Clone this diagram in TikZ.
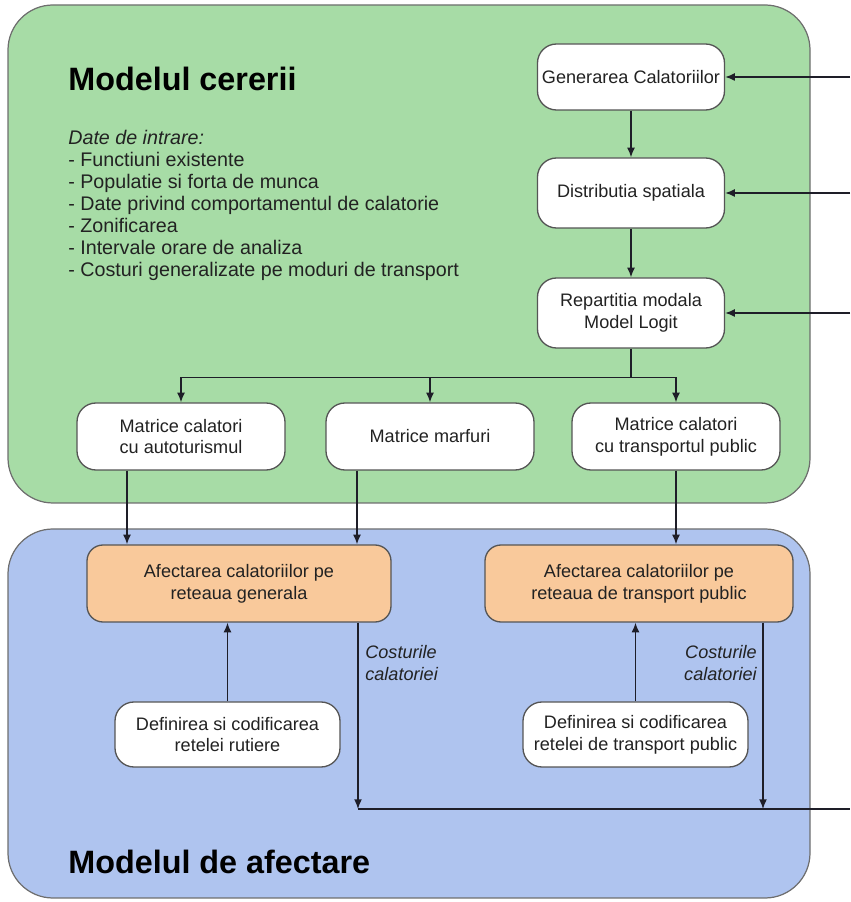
\documentclass[tikz,border=0pt]{standalone}
\usepackage{fontspec}
\setmainfont{Liberation Sans}
\usetikzlibrary{arrows.meta,positioning}

\definecolor{cererefill}{HTML}{A7DCA6}
\definecolor{afectfill}{HTML}{AFC4EF}
\definecolor{asgfill}{HTML}{F9C99B}
\definecolor{boxline}{HTML}{555555}
\definecolor{panelline}{HTML}{6E6E6E}
\definecolor{txt}{HTML}{222222}
\definecolor{arrowcol}{HTML}{1E1E28}

\begin{document}
\begin{tikzpicture}[
    >={Latex[length=5.5pt,width=4.5pt]},
    panel/.style={draw=panelline,line width=0.7pt,rounded corners=0.9cm},
    proc/.style={draw=boxline,fill=white,line width=0.75pt,rounded corners=0.38cm,
      align=center,inner sep=2pt,text=txt,font=\fontsize{10.3}{12.4}\selectfont},
    asg/.style={proc,fill=asgfill,rounded corners=0.32cm},
    title/.style={font=\fontsize{18.4}{22}\selectfont\bfseries,inner sep=0pt},
    inlist/.style={align=left,inner sep=0pt,text=txt,font=\fontsize{11.2}{12.5}\selectfont},
    costlbl/.style={inner sep=0pt,text=txt,font=\fontsize{10.3}{12.4}\selectfont\itshape},
    flow/.style={->,draw=arrowcol,line width=0.8pt}
  ]
  \useasboundingbox (0,0) rectangle (17,18.04);

  % panels
  \draw[panel,fill=cererefill] (0.16,7.98) rectangle (16.2,17.94);
  \draw[panel,fill=afectfill] (0.16,0.08) rectangle (16.2,7.46);

  \node[title,anchor=west] (tcerere) at (1.36,16.46) {Modelul cererii};
  \node[title,anchor=west] (tafect) at (1.36,0.8) {Modelul de afectare};

  \node[inlist,anchor=north west] (date) at (1.36,15.44) {\textit{Date de intrare:}\\
    - Functiuni existente\\
    - Populatie si forta de munca\\
    - Date privind comportamentul de calatorie\\
    - Zonificarea\\
    - Intervale orare de analiza\\
    - Costuri generalizate pe moduri de transport};

  % modelul cererii
  \begin{scope}[every node/.style={proc,minimum width=3.74cm}]
    \node[minimum height=1.32cm] (gen) at (12.62,16.5) {Generarea Calatoriilor};
    \node[minimum height=1.4cm] (dist) at (12.62,14.18) {Distributia spatiala};
    \node[minimum height=1.4cm] (rep) at (12.62,11.78) {Repartitia modala\\Model Logit};
  \end{scope}

  \begin{scope}[every node/.style={proc,minimum width=4.16cm,minimum height=1.34cm}]
    \node (mat1) at (3.62,9.31) {Matrice calatori\\cu autoturismul};
    \node (mat2) at (8.6,9.31) {Matrice marfuri};
    \node (mat3) at (13.52,9.31) {Matrice calatori\\cu transportul public};
  \end{scope}

  % modelul de afectare
  \node[asg,minimum width=6.08cm,minimum height=1.54cm] (asg1) at (4.78,6.37)
    {Afectarea calatoriilor pe\\reteaua generala};
  \node[asg,minimum width=6.16cm,minimum height=1.54cm] (asg2) at (12.78,6.37)
    {Afectarea calatoriilor pe\\reteaua de transport public};

  \node[proc,minimum width=4.5cm,minimum height=1.3cm] (def1) at (4.55,3.35)
    {Definirea si codificarea\\retelei rutiere};
  \node[proc,minimum width=4.5cm,minimum height=1.3cm] (def2) at (12.71,3.35)
    {Definirea si codificarea\\retelei de transport public};

  \node[costlbl,anchor=west,align=left] (cost1) at (7.3,4.78) {Costurile\\calatoriei};
  \node[costlbl,anchor=east,align=right] (cost2) at (15.14,4.78) {Costurile\\calatoriei};

  % intrari din dreapta
  \coordinate (in1) at (17,16.5);
  \coordinate (in2) at (17,14.18);
  \coordinate (in3) at (17,11.78);
  \coordinate (fb) at (17,1.86);

  \draw[flow] (in1) -- (gen.east);
  \draw[flow] (in2) -- (dist.east);
  \draw[flow] (in3) -- (rep.east);

  \draw[flow] (gen) -- (dist);
  \draw[flow] (dist) -- (rep);

  \draw[draw=arrowcol,line width=0.8pt] (rep.south) -- ++(0,-0.58) coordinate (split);
  \draw[flow] (split) -| (mat1.north);
  \draw[flow] (split) -| (mat2.north);
  \draw[flow] (split) -| (mat3.north);

  \draw[flow] ([xshift=-1.08cm]mat1.south) coordinate (m1) -- (m1 |- asg1.north);
  \draw[flow] ([xshift=-1.46cm]mat2.south) coordinate (m2) -- (m2 |- asg1.north);
  \draw[flow] (mat3.south) -- (mat3.south |- asg2.north);

  \draw[flow] (def1.north) -- (def1.north |- asg1.south);
  \draw[flow] (def2.north) -- (def2.north |- asg2.south);

  % costurile calatoriei
  \draw[flow] ([xshift=2.38cm]asg1.south) coordinate (c1) -- (c1 |- fb);
  \draw[flow] ([xshift=2.48cm]asg2.south) coordinate (c2) -- (c2 |- fb);
  \draw[draw=arrowcol,line width=0.8pt] (c1 |- fb) -- (fb);

\end{tikzpicture}
\end{document}
